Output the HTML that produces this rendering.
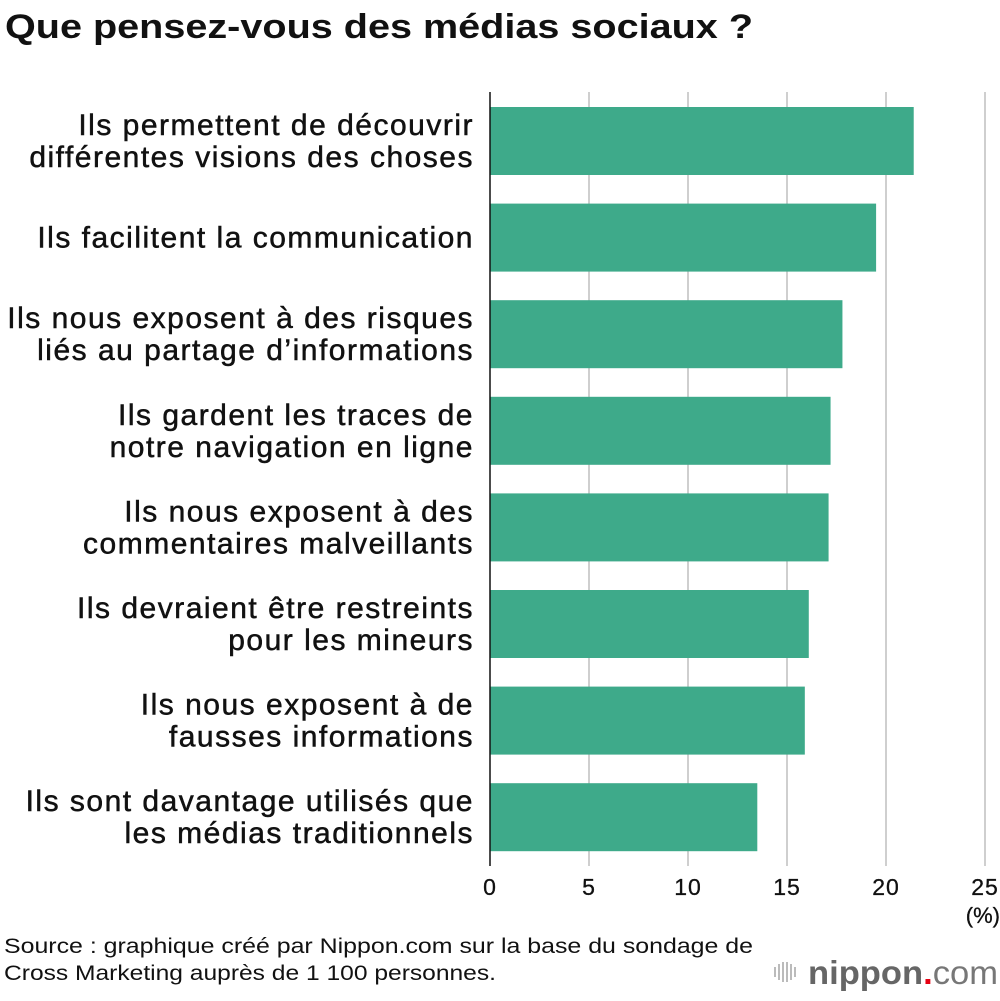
<!DOCTYPE html>
<html><head><meta charset="utf-8">
<style>
body{margin:0;background:#fff;width:1000px;height:996px;overflow:hidden;font-family:"Liberation Sans",sans-serif;}
svg text{font-family:"Liberation Sans",sans-serif;}
</style></head>
<body>
<svg id="chart" width="1000" height="996">
<text x="5" y="38" font-size="34" font-weight="bold" fill="#111" textLength="748" lengthAdjust="spacingAndGlyphs">Que pensez-vous des médias sociaux ?</text>
<g id="grid"></g>
<g id="bars"></g>
<g id="labels"></g>
<line x1="490" y1="92" x2="490" y2="866" stroke="#111" stroke-width="1.5"/>
<g id="ticks"></g>
<text x="1000" y="923" text-anchor="end" font-size="22" fill="#111" stroke="#111" stroke-width="0.3">(%)</text>
<text x="4" y="953" font-size="21" fill="#111" textLength="749" lengthAdjust="spacingAndGlyphs">Source : graphique créé par Nippon.com sur la base du sondage de</text>
<text x="4" y="980" font-size="21" fill="#111" textLength="492" lengthAdjust="spacingAndGlyphs">Cross Marketing auprès de 1 100 personnes.</text>
<g>
<g stroke="#aaa" stroke-width="1.6">
<line x1="775" y1="967" x2="775" y2="977"/><line x1="779" y1="964" x2="779" y2="980"/><line x1="783" y1="962" x2="783" y2="982"/><line x1="787" y1="962" x2="787" y2="982"/><line x1="791" y1="964" x2="791" y2="980"/><line x1="795" y1="967" x2="795" y2="977"/>
</g>
<text x="808" y="984" font-size="33" font-weight="bold" fill="#666" textLength="190" lengthAdjust="spacingAndGlyphs">nippon<tspan fill="#e60012">.</tspan><tspan font-weight="normal" fill="#777">com</tspan></text>
</g>
</svg>
<script>
const categories=[["Ils permettent de découvrir","différentes visions des choses"],["Ils facilitent la communication"],["Ils nous exposent à des risques","liés au partage d’informations"],["Ils gardent les traces de","notre navigation en ligne"],["Ils nous exposent à des","commentaires malveillants"],["Ils devraient être restreints","pour les mineurs"],["Ils nous exposent à de","fausses informations"],["Ils sont davantage utilisés que","les médias traditionnels"]];
const values=[21.4,19.5,17.8,17.2,17.1,16.1,15.9,13.5];
const tickValues=[0,5,10,15,20,25];
const tickLabels=["0","5","10","15","20","25"];
const NS="http://www.w3.org/2000/svg";
const x0=490,pxPerUnit=19.8,bandTop=92,band=96.6,barH=68,barOff=15;
const xs=v=>x0+v*pxPerUnit;
const ys=i=>bandTop+i*band+barOff;
function mk(t,a,p){const e=document.createElementNS(NS,t);for(const k in a)e.setAttribute(k,a[k]);p.appendChild(e);return e;}
const grid=document.getElementById('grid'),bars=document.getElementById('bars'),labels=document.getElementById('labels'),ticks=document.getElementById('ticks');
tickValues.forEach((v,i)=>{
 if(v>0){const l=mk('line',{x1:xs(v),x2:xs(v),y1:92,y2:866,stroke:'#cfcfcf','stroke-width':2},grid);
 
 }
 const t=mk('text',{x:xs(v),y:895,'text-anchor':'middle','font-size':23,fill:'#111',stroke:'#111','stroke-width':0.3,'letter-spacing':1},ticks);
 t.textContent=tickLabels[i];
 
 
});
values.forEach((v,i)=>{
 const r=mk('rect',{x:x0,y:ys(i),width:xs(v)-x0,height:barH,fill:'#3eaa8a'},bars);
 
 
 const lines=categories[i];const cy=ys(i)+barH/2;
 const t=mk('text',{'text-anchor':'end','font-size':30,fill:'#111',stroke:'#111','stroke-width':0.5,'letter-spacing':1.5},labels);
 
 
 lines.forEach((s,j)=>{const ts=mk('tspan',{x:474,y:cy+10+(j-(lines.length-1)/2)*32},t);ts.textContent=s;});
});
</script>
</body></html>
